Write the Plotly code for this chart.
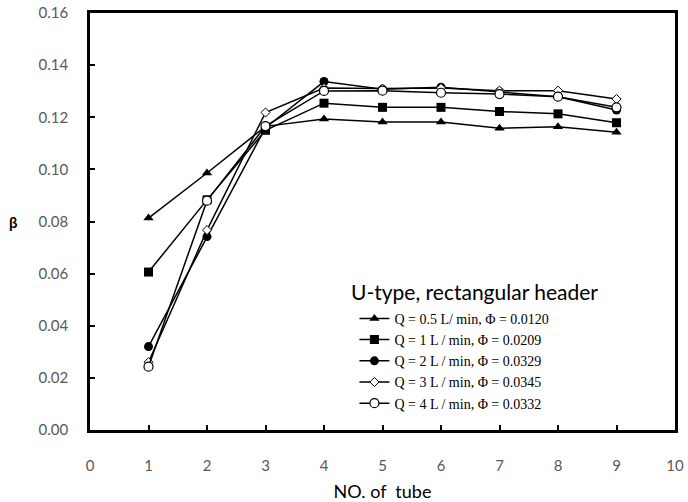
import plotly.graph_objects as go

# Tube index along the header
tube_no = [1, 2, 3, 4, 5, 6, 7, 8, 9]

# Flow distribution ratio beta for each flow rate
beta_q05 = [0.0813, 0.0986, 0.1165, 0.1193, 0.1182, 0.1182, 0.1158, 0.1164, 0.1142]
beta_q1 = [0.0606, 0.0883, 0.1150, 0.1254, 0.1238, 0.1238, 0.1222, 0.1213, 0.1179]
beta_q2 = [0.0320, 0.0742, 0.1160, 0.1337, 0.1307, 0.1315, 0.1298, 0.1279, 0.1228]
beta_q3 = [0.0260, 0.0767, 0.1218, 0.1312, 0.1310, 0.1312, 0.1302, 0.1302, 0.1270]
beta_q4 = [0.0243, 0.0880, 0.1166, 0.1301, 0.1302, 0.1294, 0.1289, 0.1279, 0.1238]

series_names = [
    "Q = 0.5 L/ min, Φ = 0.0120",
    "Q = 1 L / min, Φ = 0.0209",
    "Q = 2 L / min, Φ = 0.0329",
    "Q = 3 L / min, Φ = 0.0345",
    "Q = 4 L / min, Φ = 0.0332",
]
series_values = [beta_q05, beta_q1, beta_q2, beta_q3, beta_q4]

x_ticks = list(range(0, 11))
y_ticks = [0.00, 0.02, 0.04, 0.06, 0.08, 0.10, 0.12, 0.14, 0.16]

marker_styles = [
    dict(symbol="triangle-up", size=9, color="black"),
    dict(symbol="square", size=9, color="black"),
    dict(symbol="circle", size=9, color="black"),
    dict(symbol="diamond", size=7, color="white", line=dict(color="black", width=1)),
    dict(symbol="circle", size=9, color="white", line=dict(color="black", width=1.2)),
]

fig = go.Figure()
for name, vals, mk in zip(series_names, series_values, marker_styles):
    fig.add_trace(go.Scatter(
        x=tube_no, y=vals, name=name, mode="lines+markers",
        line=dict(color="black", width=1.5),
        marker=mk,
    ))

axis_font = dict(family="Lato, Open Sans, sans-serif", size=15, color="#595959")

fig.update_layout(
    width=688, height=502,
    margin=dict(l=90, r=13, t=13, b=72),
    paper_bgcolor="white", plot_bgcolor="white",
    showlegend=True,
    legend=dict(
        x=0.452, y=0.305, xanchor="left", yanchor="top",
        bgcolor="rgba(0,0,0,0)",
        font=dict(family="Liberation Serif, Times New Roman, serif", size=14, color="black"),
    ),
    xaxis=dict(
        range=[0, 10], tickvals=x_ticks, ticks="inside", ticklen=5, tickwidth=2,
        tickcolor="black", showline=True, linecolor="black", linewidth=2.5,
        mirror=True, showgrid=False, zeroline=False, tickfont=axis_font,
        ticklabelstandoff=20, automargin=False,
        title=dict(text="NO. of  tube", standoff=14,
                   font=dict(family="Lato, Open Sans, sans-serif", size=18, color="black")),
    ),
    yaxis=dict(
        range=[0, 0.16], tickvals=y_ticks, tickformat=".2f", ticks="inside",
        ticklen=5, tickwidth=2, tickcolor="black", showline=True, linecolor="black",
        linewidth=2.5, mirror=True, showgrid=False, zeroline=False, tickfont=axis_font,
        ticklabelstandoff=16, automargin=False,
    ),
)

# Legend heading
fig.add_annotation(
    text="U-type, rectangular header", xref="paper", yref="paper",
    x=0.658, y=0.333, showarrow=False, xanchor="center", yanchor="middle",
    font=dict(family="Lato, Open Sans, sans-serif", size=21, color="black"),
)

fig.add_annotation(
    text="<b>β</b>", xref="paper", yref="paper", x=-0.13, y=0.5,
    showarrow=False, xanchor="center", yanchor="middle",
    font=dict(family="Lato, Open Sans, sans-serif", size=15, color="black"),
)

fig.write_html("out.html")
